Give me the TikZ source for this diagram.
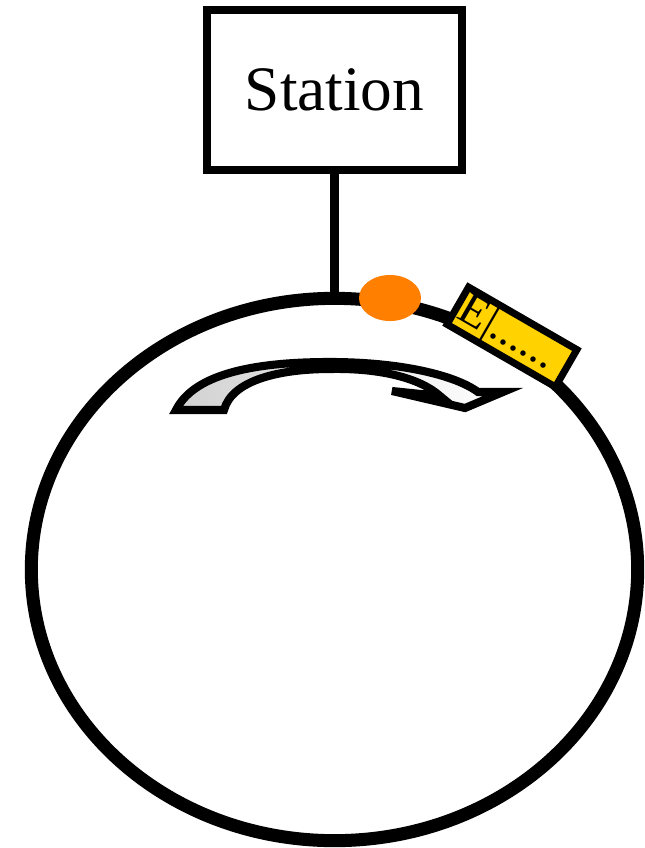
\documentclass[tikz,border=0pt]{standalone}
\usepackage{fontspec}
\setmainfont{Liberation Serif}
\usetikzlibrary{shapes.geometric, positioning}

\definecolor{dotorange}{RGB}{255,127,0}
\definecolor{tagyellow}{RGB}{255,210,0}

\tikzset{
  box/.style={draw, line width=2.3pt, minimum width=2.55cm, minimum height=1.6cm, outer sep=0pt,
    font=\fontsize{18}{20}\selectfont},
  ring/.style={draw, ellipse, line width=3.7pt, minimum width=6.06cm, minimum height=5.42cm,
    inner sep=0pt, outer sep=0pt},
  blob/.style={ellipse, fill=dotorange, minimum width=0.62cm, minimum height=0.46cm, inner sep=0pt},
  tag/.style={draw, fill=tagyellow, line width=2pt, minimum width=1.25cm, minimum height=0.43cm,
    text width=1.17cm, align=left, inner xsep=0.04cm, inner ysep=0pt, font=\fontsize{13}{13}\selectfont}
}

\begin{document}
\begin{tikzpicture}[x=0.01cm, y=-0.01cm]
    \useasboundingbox (0,0) rectangle (644,848);

    % Station and track
    \node[box] (station) at (334.5,90) {Station};
    \node[ring] (track) at (334.5,569.5) {};
    \draw[line width=2.3pt] (station.south) -- (track.north);

    % Train and its label
    \node[blob] (train) at (390,298) {};
    \node[tag, rotate=-30] (label) at (512,337) {E|......};

    % Direction of travel
    \shade[left color=black!18, middle color=white, right color=white, draw=black,
        line width=2.3pt, line join=miter]
      (176,410) .. controls (195,372) and (260,362) .. (330,362)
      .. controls (400,362) and (455,375) .. (478,392)
      -- (503,392) -- (465,408) -- (392,391) -- (440,396)
      .. controls (420,378) and (380,368) .. (330,369)
      .. controls (280,369) and (232,380) .. (224,410) -- cycle;
\end{tikzpicture}
\end{document}
